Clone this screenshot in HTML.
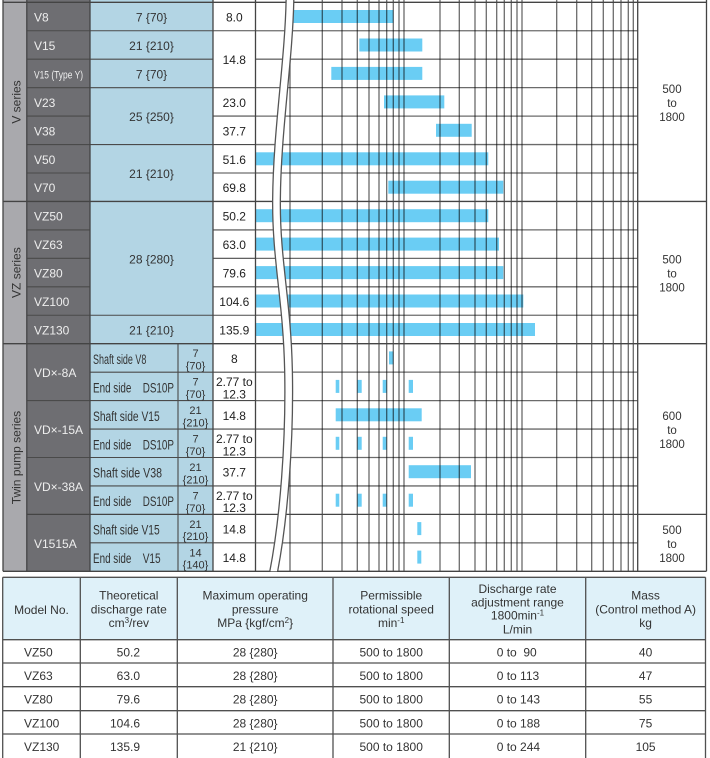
<!DOCTYPE html>
<html><head><meta charset="utf-8"><style>
html,body{margin:0;padding:0;background:#fff;}
svg{display:block;font-family:"Liberation Sans",Arial,sans-serif;}
</style></head><body>
<svg width="710" height="758" viewBox="0 0 710 758" xmlns="http://www.w3.org/2000/svg">
<defs><clipPath id="cc"><rect x="256" y="0" width="381" height="571.3"/></clipPath></defs>
<!-- column fills -->
<rect x="3" y="0" width="23.8" height="571.3" fill="#a9a9ad"/>
<rect x="26.8" y="0" width="63.2" height="571.3" fill="#6e6e72"/>
<rect x="90" y="0" width="123" height="571.3" fill="#b3d5e4"/>

<!-- bars -->
<g fill="#6acdf4">
<rect x="293.3" y="10" width="100" height="13"/>
<rect x="359.3" y="38.5" width="63" height="13"/>
<rect x="331.3" y="66.9" width="91" height="13"/>
<rect x="384" y="95.4" width="60.3" height="13"/>
<rect x="436" y="123.8" width="35.7" height="13"/>
<rect x="255.5" y="152.3" width="232.8" height="13"/>
<rect x="388.3" y="180.7" width="115" height="13"/>
<rect x="255.5" y="209.2" width="232.8" height="13"/>
<rect x="255.5" y="237.6" width="243.5" height="13"/>
<rect x="255.5" y="266.1" width="247.8" height="13"/>
<rect x="255.5" y="294.5" width="267.8" height="13"/>
<rect x="255.5" y="323" width="279.5" height="13"/>
<rect x="389" y="351.4" width="4.3" height="13"/>
<rect x="335.7" y="379.9" width="3.6" height="13"/><rect x="357.3" y="379.9" width="4.4" height="13"/><rect x="382.7" y="379.9" width="4" height="13"/><rect x="408.7" y="379.9" width="4.3" height="13"/>
<rect x="335.7" y="408.3" width="86" height="13"/>
<rect x="335.7" y="436.8" width="3.6" height="13"/><rect x="357.3" y="436.8" width="4.4" height="13"/><rect x="382.7" y="436.8" width="4" height="13"/><rect x="408.7" y="436.8" width="4.3" height="13"/>
<rect x="408.7" y="465.2" width="62.3" height="13"/>
<rect x="335.7" y="493.7" width="3.6" height="13"/><rect x="357.3" y="493.7" width="4.4" height="13"/><rect x="382.7" y="493.7" width="4" height="13"/><rect x="408.7" y="493.7" width="4.3" height="13"/>
<rect x="417.3" y="522.1" width="4" height="13"/>
<rect x="417.3" y="550.6" width="4" height="13"/>
</g>

<!-- chart grid -->
<g stroke="#000" stroke-opacity="0.58" stroke-width="1.3">
<line x1="290" y1="0" x2="290" y2="571.3"/>
<line x1="322.3" y1="0" x2="322.3" y2="571.3"/>
<line x1="342" y1="0" x2="342" y2="571.3"/>
<line x1="357.3" y1="0" x2="357.3" y2="571.3"/>
<line x1="369" y1="0" x2="369" y2="571.3"/>
<line x1="379" y1="0" x2="379" y2="571.3"/>
<line x1="386.7" y1="0" x2="386.7" y2="571.3"/>
<line x1="393.3" y1="0" x2="393.3" y2="571.3"/>
<line x1="399" y1="0" x2="399" y2="571.3"/>
<line x1="404" y1="0" x2="404" y2="571.3"/>
<line x1="440" y1="0" x2="440" y2="571.3"/>
<line x1="459.3" y1="0" x2="459.3" y2="571.3"/>
<line x1="475" y1="0" x2="475" y2="571.3"/>
<line x1="486.3" y1="0" x2="486.3" y2="571.3"/>
<line x1="496.7" y1="0" x2="496.7" y2="571.3"/>
<line x1="504.3" y1="0" x2="504.3" y2="571.3"/>
<line x1="511.3" y1="0" x2="511.3" y2="571.3"/>
<line x1="517" y1="0" x2="517" y2="571.3"/>
<line x1="522" y1="0" x2="522" y2="571.3"/>
<line x1="556.7" y1="0" x2="556.7" y2="571.3"/>
<line x1="576.7" y1="0" x2="576.7" y2="571.3"/>
<line x1="591.7" y1="0" x2="591.7" y2="571.3"/>
<line x1="603.3" y1="0" x2="603.3" y2="571.3"/>
<line x1="613.3" y1="0" x2="613.3" y2="571.3"/>
<line x1="621" y1="0" x2="621" y2="571.3"/>
<line x1="628.3" y1="0" x2="628.3" y2="571.3"/>
<line x1="633.3" y1="0" x2="633.3" y2="571.3"/>
<line x1="255.5" y1="30.75" x2="637.7" y2="30.75"/>
<line x1="255.5" y1="59.2" x2="637.7" y2="59.2"/>
<line x1="255.5" y1="87.65" x2="637.7" y2="87.65"/>
<line x1="255.5" y1="116.1" x2="637.7" y2="116.1"/>
<line x1="255.5" y1="144.55" x2="637.7" y2="144.55"/>
<line x1="255.5" y1="173" x2="637.7" y2="173"/>
<line x1="255.5" y1="229.9" x2="637.7" y2="229.9"/>
<line x1="255.5" y1="258.35" x2="637.7" y2="258.35"/>
<line x1="255.5" y1="286.8" x2="637.7" y2="286.8"/>
<line x1="255.5" y1="315.25" x2="637.7" y2="315.25"/>
<line x1="255.5" y1="372.15" x2="637.7" y2="372.15"/>
<line x1="255.5" y1="400.6" x2="637.7" y2="400.6"/>
<line x1="255.5" y1="429.05" x2="637.7" y2="429.05"/>
<line x1="255.5" y1="457.5" x2="637.7" y2="457.5"/>
<line x1="255.5" y1="485.95" x2="637.7" y2="485.95"/>
<line x1="255.5" y1="542.85" x2="637.7" y2="542.85"/>
</g>

<!-- left area lines -->
<g stroke="#4a4a4a" stroke-width="1.1">
<line x1="26.8" y1="30.75" x2="255.5" y2="30.75"/>
<line x1="26.8" y1="59.2" x2="213" y2="59.2"/>
<line x1="26.8" y1="87.65" x2="255.5" y2="87.65"/>
<line x1="26.8" y1="116.1" x2="90" y2="116.1"/>
<line x1="213" y1="116.1" x2="255.5" y2="116.1"/>
<line x1="26.8" y1="144.55" x2="255.5" y2="144.55"/>
<line x1="26.8" y1="173" x2="90" y2="173"/>
<line x1="213" y1="173" x2="255.5" y2="173"/>
<line x1="26.8" y1="229.9" x2="90" y2="229.9"/>
<line x1="213" y1="229.9" x2="255.5" y2="229.9"/>
<line x1="26.8" y1="258.35" x2="90" y2="258.35"/>
<line x1="213" y1="258.35" x2="255.5" y2="258.35"/>
<line x1="26.8" y1="286.8" x2="90" y2="286.8"/>
<line x1="213" y1="286.8" x2="255.5" y2="286.8"/>
<line x1="26.8" y1="315.25" x2="255.5" y2="315.25"/>
<line x1="90" y1="372.15" x2="255.5" y2="372.15"/>
<line x1="26.8" y1="400.6" x2="255.5" y2="400.6"/>
<line x1="90" y1="429.05" x2="255.5" y2="429.05"/>
<line x1="26.8" y1="457.5" x2="255.5" y2="457.5"/>
<line x1="90" y1="485.95" x2="255.5" y2="485.95"/>
<line x1="90" y1="542.85" x2="255.5" y2="542.85"/>
<line x1="178" y1="343.7" x2="178" y2="571.3"/>
</g>
<g stroke="#444" stroke-width="1.3">
<line x1="3" y1="0" x2="3" y2="571.3"/>
<line x1="26.8" y1="0" x2="26.8" y2="571.3"/>
<line x1="90" y1="0" x2="90" y2="571.3"/>
<line x1="213" y1="0" x2="213" y2="571.3"/>
<line x1="255.5" y1="0" x2="255.5" y2="571.3"/>
<line x1="637.7" y1="0" x2="637.7" y2="571.3"/>
<line x1="706.5" y1="0" x2="706.5" y2="571.3"/>
<line x1="3" y1="2.3" x2="706.5" y2="2.3"/>
<line x1="3" y1="201.45" x2="706.5" y2="201.45"/>
<line x1="3" y1="343.7" x2="706.5" y2="343.7"/>
<line x1="26.8" y1="514.4" x2="706.5" y2="514.4"/>
<line x1="3" y1="571.3" x2="706.5" y2="571.3"/>
</g>

<!-- break -->
<g clip-path="url(#cc)" fill="none">
<path d="M290,-2 C289,60 277,130 276.5,200 C276,260 287,300 288.5,370 C290,440 284,520 273,575" stroke="#555" stroke-width="9"/>
<path d="M290,-2 C289,60 277,130 276.5,200 C276,260 287,300 288.5,370 C290,440 284,520 273,575" stroke="#fff" stroke-width="6.4"/>
</g>

<!-- series labels -->
<g font-size="12" fill="#333" text-anchor="middle">
<text transform="translate(20.5,102) rotate(-90)">V series</text>
<text transform="translate(20.5,272.6) rotate(-90)">VZ series</text>
<text transform="translate(20.5,457.5) rotate(-90)">Twin pump series</text>
</g>

<!-- model labels -->
<g font-size="12" fill="#eeeeee">
<text x="34" y="21.5">V8</text>
<text x="34" y="50">V15</text>
<text x="34" y="78.4" font-size="11" textLength="49" lengthAdjust="spacingAndGlyphs">V15 (Type Y)</text>
<text x="34" y="106.9">V23</text>
<text x="34" y="135.3">V38</text>
<text x="34" y="163.8">V50</text>
<text x="34" y="192.2">V70</text>
<text x="34" y="220.7">VZ50</text>
<text x="34" y="249.1">VZ63</text>
<text x="34" y="277.6">VZ80</text>
<text x="34" y="306">VZ100</text>
<text x="34" y="334.5">VZ130</text>
<text x="34" y="377.2">VD×-8A</text>
<text x="34" y="434">VD×-15A</text>
<text x="34" y="491">VD×-38A</text>
<text x="34" y="547.9">V1515A</text>
</g>

<!-- pressure column -->
<g font-size="12" fill="#333" text-anchor="middle">
<text x="151.5" y="21.5">7 {70}</text>
<text x="151.5" y="50">21 {210}</text>
<text x="151.5" y="78.4">7 {70}</text>
<text x="151.5" y="121.1">25 {250}</text>
<text x="151.5" y="178">21 {210}</text>
<text x="151.5" y="263.4">28 {280}</text>
<text x="151.5" y="334.5">21 {210}</text>
</g>

<!-- twin sub labels -->
<g font-size="13.5" fill="#333" lengthAdjust="spacingAndGlyphs">
<text x="93" y="363.9" textLength="53.4" lengthAdjust="spacingAndGlyphs">Shaft side V8</text>
<text x="93" y="392.4" textLength="38.4" lengthAdjust="spacingAndGlyphs">End side</text>
<text x="142.7" y="392.4" textLength="31.3" lengthAdjust="spacingAndGlyphs">DS10P</text>
<text x="93" y="420.8" textLength="66.7" lengthAdjust="spacingAndGlyphs">Shaft side V15</text>
<text x="93" y="449.3" textLength="38.4" lengthAdjust="spacingAndGlyphs">End side</text>
<text x="142.7" y="449.3" textLength="31.3" lengthAdjust="spacingAndGlyphs">DS10P</text>
<text x="93" y="477.7" textLength="69" lengthAdjust="spacingAndGlyphs">Shaft side V38</text>
<text x="93" y="506.2" textLength="38.4" lengthAdjust="spacingAndGlyphs">End side</text>
<text x="142.7" y="506.2" textLength="31.3" lengthAdjust="spacingAndGlyphs">DS10P</text>
<text x="93" y="534.6" textLength="66.7" lengthAdjust="spacingAndGlyphs">Shaft side V15</text>
<text x="93" y="563.1" textLength="38.4" lengthAdjust="spacingAndGlyphs">End side</text>
<text x="142.7" y="563.1" textLength="18" lengthAdjust="spacingAndGlyphs">V15</text>
</g>
<g font-size="11" fill="#333" text-anchor="middle">
<text x="195.5" y="357.2">7</text><text x="195.5" y="369.5">{70}</text>
<text x="195.5" y="385.65">7</text><text x="195.5" y="397.95">{70}</text>
<text x="195.5" y="414.1">21</text><text x="195.5" y="426.4">{210}</text>
<text x="195.5" y="442.55">7</text><text x="195.5" y="454.85">{70}</text>
<text x="195.5" y="471">21</text><text x="195.5" y="483.3">{210}</text>
<text x="195.5" y="499.45">7</text><text x="195.5" y="511.75">{70}</text>
<text x="195.5" y="527.9">21</text><text x="195.5" y="540.2">{210}</text>
<text x="195.5" y="556.35">14</text><text x="195.5" y="568.65">{140}</text>
</g>

<!-- value column -->
<g font-size="12" fill="#222" text-anchor="middle">
<text x="234.3" y="21.5">8.0</text>
<text x="234.3" y="64.2">14.8</text>
<text x="234.3" y="106.9">23.0</text>
<text x="234.3" y="135.3">37.7</text>
<text x="234.3" y="163.8">51.6</text>
<text x="234.3" y="192.2">69.8</text>
<text x="234.3" y="220.7">50.2</text>
<text x="234.3" y="249.1">63.0</text>
<text x="234.3" y="277.6">79.6</text>
<text x="234.3" y="306">104.6</text>
<text x="234.3" y="334.5">135.9</text>
<text x="234.3" y="362.9">8</text>
<text x="234.3" y="386">2.77 to</text><text x="234.3" y="398.3">12.3</text>
<text x="234.3" y="419.8">14.8</text>
<text x="234.3" y="443">2.77 to</text><text x="234.3" y="455.3">12.3</text>
<text x="234.3" y="476.7">37.7</text>
<text x="234.3" y="499.9">2.77 to</text><text x="234.3" y="512.2">12.3</text>
<text x="234.3" y="533.6">14.8</text>
<text x="234.3" y="562.1">14.8</text>
</g>

<!-- right column -->
<g font-size="11.5" fill="#333" text-anchor="middle">
<text x="672" y="92.9">500</text><text x="672" y="106.9">to</text><text x="672" y="120.9">1800</text>
<text x="672" y="263.6">500</text><text x="672" y="277.6">to</text><text x="672" y="291.6">1800</text>
<text x="672" y="420">600</text><text x="672" y="434">to</text><text x="672" y="448">1800</text>
<text x="672" y="533.9">500</text><text x="672" y="547.9">to</text><text x="672" y="561.9">1800</text>
</g>

<!-- bottom table -->
<rect x="2.7" y="577.3" width="702.8" height="62.4" fill="#dff1f9"/>
<g stroke="#505050" stroke-width="1.3">
<line x1="2.7" y1="577.3" x2="705.5" y2="577.3"/>
<line x1="2.7" y1="639.7" x2="705.5" y2="639.7"/>
<line x1="2.7" y1="663" x2="705.5" y2="663"/>
<line x1="2.7" y1="686.7" x2="705.5" y2="686.7"/>
<line x1="2.7" y1="710.7" x2="705.5" y2="710.7"/>
<line x1="2.7" y1="734" x2="705.5" y2="734"/>
<line x1="2.7" y1="577.3" x2="2.7" y2="758"/>
<line x1="80.3" y1="577.3" x2="80.3" y2="758"/>
<line x1="177.3" y1="577.3" x2="177.3" y2="758"/>
<line x1="333" y1="577.3" x2="333" y2="758"/>
<line x1="449.3" y1="577.3" x2="449.3" y2="758"/>
<line x1="585.7" y1="577.3" x2="585.7" y2="758"/>
<line x1="705.5" y1="577.3" x2="705.5" y2="758"/>
</g>
<g font-size="12" fill="#333" text-anchor="middle">
<text x="41.5" y="614">Model No.</text>
<text x="128.8" y="599.7">Theoretical</text>
<text x="128.8" y="613.5">discharge rate</text>
<text x="128.8" y="627">cm<tspan font-size="8" dy="-4">3</tspan><tspan dy="4">/rev</tspan></text>
<text x="255.2" y="599.7">Maximum operating</text>
<text x="255.2" y="613.5">pressure</text>
<text x="255.2" y="627">MPa {kgf/cm<tspan font-size="8" dy="-4">2</tspan><tspan dy="4">}</tspan></text>
<text x="391.2" y="599.7">Permissible</text>
<text x="391.2" y="613.5">rotational speed</text>
<text x="391.2" y="627">min<tspan font-size="8" dy="-4">-1</tspan></text>
<text x="517.5" y="593">Discharge rate</text>
<text x="517.5" y="606.3">adjustment range</text>
<text x="517.5" y="619.7">1800min<tspan font-size="8" dy="-4">-1</tspan></text>
<text x="517.5" y="633.7">L/min</text>
<text x="645.6" y="599.7">Mass</text>
<text x="645.6" y="613.5">(Control method A)</text>
<text x="645.6" y="627">kg</text>
</g>
<g font-size="12" fill="#333">
<text x="24" y="656.3">VZ50</text>
<text x="24" y="679.9">VZ63</text>
<text x="24" y="703.7">VZ80</text>
<text x="24" y="727.4">VZ100</text>
<text x="24" y="751">VZ130</text>
<g text-anchor="end">
<text x="140" y="656.3">50.2</text>
<text x="140" y="679.9">63.0</text>
<text x="140" y="703.7">79.6</text>
<text x="140" y="727.4">104.6</text>
<text x="140" y="751">135.9</text>
</g>
<g text-anchor="middle">
<text x="255.2" y="656.3">28 {280}</text>
<text x="255.2" y="679.9">28 {280}</text>
<text x="255.2" y="703.7">28 {280}</text>
<text x="255.2" y="727.4">28 {280}</text>
<text x="255.2" y="751">21 {210}</text>
<text x="391.2" y="656.3">500 to 1800</text>
<text x="391.2" y="679.9">500 to 1800</text>
<text x="391.2" y="703.7">500 to 1800</text>
<text x="391.2" y="727.4">500 to 1800</text>
<text x="391.2" y="751">500 to 1800</text>
<text x="645.6" y="656.3">40</text>
<text x="645.6" y="679.9">47</text>
<text x="645.6" y="703.7">55</text>
<text x="645.6" y="727.4">75</text>
<text x="645.6" y="751">105</text>
</g>
<text x="496.7" y="656.3" xml:space="preserve">0 to  90</text>
<text x="496.7" y="679.9">0 to 113</text>
<text x="496.7" y="703.7">0 to 143</text>
<text x="496.7" y="727.4">0 to 188</text>
<text x="496.7" y="751">0 to 244</text>
</g>
</svg>
</body></html>
